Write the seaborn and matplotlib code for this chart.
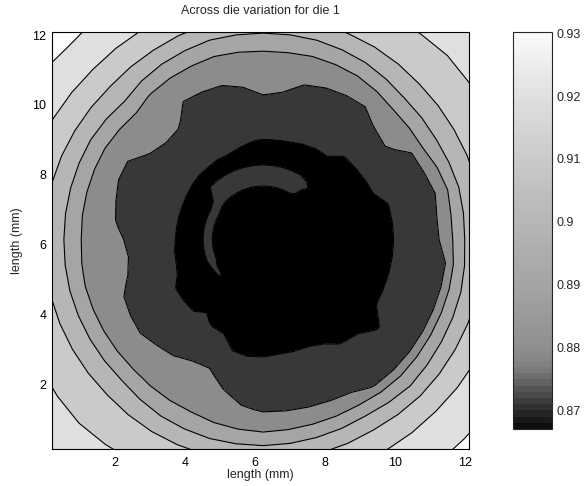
"""
Across-die variation map for die 1 (filled contour, grey levels)
Values sampled on a polar grid around the die centre
"""

import numpy as np
import matplotlib
matplotlib.use('Agg')
import matplotlib.pyplot as plt
import matplotlib.colors as mcolors
import matplotlib.cm as cm
import seaborn as sns

sns.set_theme(style="white")
plt.rcParams['font.family'] = ['Liberation Sans', 'DejaVu Sans']

# ============================================================================
# DATA
# ============================================================================
centre_mm = (6.23, 6.15)
radius_mm = [0, 0.7, 1.25, 1.6, 1.95, 2.45, 2.85, 3.3, 3.7, 4.15,
             4.55, 4.9, 5.25, 5.6, 5.95, 6.5, 7.15, 7.65, 8.3, 9.15]
angle_deg = [0, 7.5, 15, 22.5, 30, 37.5, 45, 52.5, 60, 67.5, 75, 82.5,
             90, 97.5, 105, 112.5, 120, 127.5, 135, 142.5, 150, 157.5, 165, 172.5,
             180, 187.5, 195, 202.5, 210, 217.5, 225, 232.5, 240, 247.5, 255, 262.5,
             270, 277.5, 285, 292.5, 300, 307.5, 315, 322.5, 330, 337.5, 345, 352.5]

# one row per angle, one value per radius
die_rows = [
    [0.8665, 0.8670, 0.8680, 0.8685, 0.8690, 0.8693, 0.8695, 0.8697, 0.8699, 0.8716, 0.8748, 0.8776, 0.8844, 0.8963, 0.9045, 0.9136, 0.9205, 0.9242, 0.9290, 0.9363],
    [0.8665, 0.8670, 0.8680, 0.8685, 0.8690, 0.8693, 0.8695, 0.8697, 0.8699, 0.8721, 0.8752, 0.8779, 0.8850, 0.8959, 0.9043, 0.9134, 0.9201, 0.9236, 0.9281, 0.9351],
    [0.8665, 0.8670, 0.8680, 0.8685, 0.8690, 0.8693, 0.8695, 0.8698, 0.8699, 0.8729, 0.8755, 0.8778, 0.8819, 0.8956, 0.9040, 0.9132, 0.9195, 0.9230, 0.9273, 0.9338],
    [0.8665, 0.8670, 0.8680, 0.8685, 0.8690, 0.8693, 0.8695, 0.8698, 0.8705, 0.8734, 0.8760, 0.8782, 0.8861, 0.8966, 0.9047, 0.9130, 0.9190, 0.9225, 0.9265, 0.9326],
    [0.8665, 0.8670, 0.8680, 0.8685, 0.8690, 0.8693, 0.8696, 0.8698, 0.8709, 0.8742, 0.8771, 0.8797, 0.8898, 0.8975, 0.9052, 0.9129, 0.9186, 0.9220, 0.9258, 0.9313],
    [0.8665, 0.8670, 0.8680, 0.8685, 0.8690, 0.8693, 0.8696, 0.8698, 0.8719, 0.8772, 0.8819, 0.8859, 0.8899, 0.8975, 0.9052, 0.9128, 0.9183, 0.9217, 0.9255, 0.9307],
    [0.8665, 0.8670, 0.8680, 0.8692, 0.8698, 0.8693, 0.8696, 0.8699, 0.8719, 0.8764, 0.8805, 0.8852, 0.8899, 0.8975, 0.9052, 0.9127, 0.9180, 0.9214, 0.9252, 0.9301],
    [0.8665, 0.8670, 0.8685, 0.8698, 0.8702, 0.8693, 0.8697, 0.8706, 0.8730, 0.8757, 0.8781, 0.8809, 0.8881, 0.8958, 0.9040, 0.9126, 0.9182, 0.9217, 0.9255, 0.9307],
    [0.8665, 0.8670, 0.8685, 0.8704, 0.8704, 0.8693, 0.8697, 0.8706, 0.8731, 0.8758, 0.8783, 0.8812, 0.8870, 0.8940, 0.9025, 0.9125, 0.9185, 0.9220, 0.9258, 0.9313],
    [0.8665, 0.8670, 0.8685, 0.8704, 0.8704, 0.8693, 0.8697, 0.8711, 0.8735, 0.8763, 0.8787, 0.8819, 0.8870, 0.8933, 0.9017, 0.9124, 0.9189, 0.9225, 0.9265, 0.9326],
    [0.8665, 0.8670, 0.8685, 0.8704, 0.8704, 0.8693, 0.8698, 0.8720, 0.8745, 0.8772, 0.8797, 0.8834, 0.8873, 0.8927, 0.9010, 0.9123, 0.9195, 0.9230, 0.9273, 0.9338],
    [0.8665, 0.8670, 0.8685, 0.8704, 0.8704, 0.8693, 0.8699, 0.8729, 0.8759, 0.8792, 0.8824, 0.8852, 0.8881, 0.8927, 0.9010, 0.9125, 0.9201, 0.9236, 0.9281, 0.9351],
    [0.8665, 0.8670, 0.8685, 0.8704, 0.8704, 0.8693, 0.8699, 0.8730, 0.8763, 0.8801, 0.8830, 0.8856, 0.8882, 0.8927, 0.9010, 0.9127, 0.9205, 0.9242, 0.9290, 0.9363],
    [0.8665, 0.8670, 0.8685, 0.8704, 0.8704, 0.8693, 0.8701, 0.8729, 0.8754, 0.8783, 0.8811, 0.8845, 0.8878, 0.8927, 0.9010, 0.9128, 0.9208, 0.9248, 0.9299, 0.9373],
    [0.8665, 0.8670, 0.8685, 0.8704, 0.8704, 0.8693, 0.8704, 0.8729, 0.8752, 0.8777, 0.8799, 0.8836, 0.8874, 0.8927, 0.9010, 0.9130, 0.9213, 0.9254, 0.9309, 0.9383],
    [0.8665, 0.8670, 0.8685, 0.8704, 0.8704, 0.8693, 0.8709, 0.8732, 0.8753, 0.8777, 0.8798, 0.8837, 0.8879, 0.8940, 0.9024, 0.9138, 0.9220, 0.9262, 0.9318, 0.9392],
    [0.8665, 0.8670, 0.8685, 0.8704, 0.8704, 0.8693, 0.8709, 0.8733, 0.8754, 0.8778, 0.8799, 0.8841, 0.8885, 0.8953, 0.9038, 0.9148, 0.9227, 0.9270, 0.9326, 0.9401],
    [0.8665, 0.8670, 0.8685, 0.8704, 0.8704, 0.8693, 0.8713, 0.8747, 0.8778, 0.8813, 0.8843, 0.8870, 0.8897, 0.8976, 0.9051, 0.9150, 0.9231, 0.9276, 0.9334, 0.9408],
    [0.8665, 0.8670, 0.8685, 0.8704, 0.8704, 0.8693, 0.8713, 0.8750, 0.8783, 0.8818, 0.8849, 0.8877, 0.8913, 0.9001, 0.9061, 0.9152, 0.9234, 0.9283, 0.9341, 0.9416],
    [0.8665, 0.8670, 0.8688, 0.8705, 0.8696, 0.8695, 0.8714, 0.8745, 0.8774, 0.8807, 0.8842, 0.8873, 0.8908, 0.8990, 0.9058, 0.9151, 0.9231, 0.9276, 0.9334, 0.9408],
    [0.8665, 0.8670, 0.8692, 0.8706, 0.8688, 0.8697, 0.8713, 0.8737, 0.8757, 0.8781, 0.8805, 0.8854, 0.8905, 0.8981, 0.9054, 0.9150, 0.9227, 0.9270, 0.9326, 0.9401],
    [0.8665, 0.8670, 0.8692, 0.8706, 0.8688, 0.8698, 0.8715, 0.8738, 0.8758, 0.8781, 0.8805, 0.8854, 0.8905, 0.8981, 0.9054, 0.9144, 0.9220, 0.9262, 0.9318, 0.9392],
    [0.8665, 0.8670, 0.8692, 0.8706, 0.8688, 0.8698, 0.8716, 0.8740, 0.8761, 0.8785, 0.8815, 0.8859, 0.8905, 0.8981, 0.9054, 0.9140, 0.9213, 0.9254, 0.9309, 0.9383],
    [0.8665, 0.8670, 0.8692, 0.8706, 0.8688, 0.8698, 0.8716, 0.8742, 0.8765, 0.8791, 0.8826, 0.8864, 0.8905, 0.8981, 0.9054, 0.9138, 0.9208, 0.9248, 0.9299, 0.9373],
    [0.8665, 0.8670, 0.8692, 0.8706, 0.8688, 0.8697, 0.8718, 0.8750, 0.8779, 0.8812, 0.8845, 0.8873, 0.8905, 0.8981, 0.9054, 0.9136, 0.9205, 0.9242, 0.9290, 0.9363],
    [0.8665, 0.8670, 0.8692, 0.8706, 0.8688, 0.8696, 0.8712, 0.8751, 0.8786, 0.8821, 0.8850, 0.8875, 0.8902, 0.8978, 0.9053, 0.9134, 0.9201, 0.9236, 0.9281, 0.9351],
    [0.8665, 0.8670, 0.8692, 0.8706, 0.8688, 0.8696, 0.8709, 0.8744, 0.8776, 0.8812, 0.8844, 0.8872, 0.8899, 0.8975, 0.9052, 0.9132, 0.9195, 0.9230, 0.9273, 0.9338],
    [0.8665, 0.8670, 0.8692, 0.8706, 0.8688, 0.8695, 0.8705, 0.8733, 0.8759, 0.8787, 0.8821, 0.8860, 0.8899, 0.8975, 0.9052, 0.9130, 0.9190, 0.9225, 0.9265, 0.9326],
    [0.8665, 0.8670, 0.8690, 0.8703, 0.8688, 0.8694, 0.8699, 0.8725, 0.8750, 0.8781, 0.8815, 0.8857, 0.8899, 0.8975, 0.9052, 0.9129, 0.9186, 0.9220, 0.9258, 0.9313],
    [0.8665, 0.8670, 0.8690, 0.8702, 0.8688, 0.8694, 0.8699, 0.8722, 0.8749, 0.8779, 0.8810, 0.8855, 0.8899, 0.8975, 0.9052, 0.9128, 0.9183, 0.9217, 0.9255, 0.9307],
    [0.8665, 0.8670, 0.8685, 0.8699, 0.8690, 0.8695, 0.8699, 0.8727, 0.8755, 0.8787, 0.8823, 0.8861, 0.8899, 0.8975, 0.9052, 0.9127, 0.9180, 0.9214, 0.9252, 0.9301],
    [0.8665, 0.8670, 0.8680, 0.8685, 0.8690, 0.8696, 0.8704, 0.8735, 0.8764, 0.8795, 0.8830, 0.8861, 0.8892, 0.8958, 0.9040, 0.9126, 0.9182, 0.9217, 0.9255, 0.9307],
    [0.8665, 0.8670, 0.8680, 0.8685, 0.8690, 0.8694, 0.8698, 0.8719, 0.8767, 0.8812, 0.8840, 0.8864, 0.8888, 0.8940, 0.9025, 0.9125, 0.9185, 0.9220, 0.9258, 0.9313],
    [0.8665, 0.8670, 0.8680, 0.8685, 0.8690, 0.8694, 0.8697, 0.8714, 0.8770, 0.8815, 0.8841, 0.8863, 0.8886, 0.8931, 0.9017, 0.9124, 0.9189, 0.9225, 0.9265, 0.9326],
    [0.8665, 0.8670, 0.8680, 0.8685, 0.8690, 0.8693, 0.8696, 0.8699, 0.8727, 0.8772, 0.8811, 0.8843, 0.8876, 0.8921, 0.9010, 0.9123, 0.9195, 0.9230, 0.9273, 0.9338],
    [0.8665, 0.8670, 0.8680, 0.8685, 0.8690, 0.8693, 0.8695, 0.8698, 0.8708, 0.8745, 0.8777, 0.8810, 0.8860, 0.8919, 0.9010, 0.9125, 0.9201, 0.9236, 0.9281, 0.9351],
    [0.8665, 0.8670, 0.8680, 0.8685, 0.8690, 0.8693, 0.8696, 0.8698, 0.8709, 0.8741, 0.8769, 0.8793, 0.8846, 0.8915, 0.9010, 0.9127, 0.9205, 0.9242, 0.9290, 0.9363],
    [0.8665, 0.8670, 0.8680, 0.8685, 0.8690, 0.8693, 0.8696, 0.8699, 0.8715, 0.8744, 0.8769, 0.8791, 0.8844, 0.8922, 0.9013, 0.9130, 0.9208, 0.9246, 0.9296, 0.9369],
    [0.8665, 0.8670, 0.8680, 0.8685, 0.8690, 0.8693, 0.8696, 0.8699, 0.8713, 0.8742, 0.8767, 0.8788, 0.8841, 0.8929, 0.9017, 0.9133, 0.9212, 0.9251, 0.9301, 0.9376],
    [0.8665, 0.8670, 0.8680, 0.8685, 0.8690, 0.8693, 0.8696, 0.8699, 0.8711, 0.8739, 0.8764, 0.8785, 0.8834, 0.8934, 0.9021, 0.9136, 0.9215, 0.9254, 0.9306, 0.9381],
    [0.8665, 0.8670, 0.8680, 0.8685, 0.8690, 0.8693, 0.8695, 0.8698, 0.8703, 0.8732, 0.8758, 0.8781, 0.8822, 0.8940, 0.9025, 0.9140, 0.9219, 0.9259, 0.9311, 0.9386],
    [0.8665, 0.8670, 0.8680, 0.8685, 0.8690, 0.8692, 0.8694, 0.8697, 0.8699, 0.8713, 0.8743, 0.8768, 0.8794, 0.8930, 0.9014, 0.9139, 0.9221, 0.9261, 0.9314, 0.9388],
    [0.8665, 0.8670, 0.8680, 0.8685, 0.8690, 0.8692, 0.8694, 0.8696, 0.8698, 0.8705, 0.8735, 0.8762, 0.8789, 0.8920, 0.9002, 0.9138, 0.9223, 0.9263, 0.9316, 0.9391],
    [0.8665, 0.8670, 0.8680, 0.8685, 0.8690, 0.8692, 0.8694, 0.8696, 0.8698, 0.8699, 0.8728, 0.8759, 0.8789, 0.8927, 0.9010, 0.9137, 0.9221, 0.9261, 0.9314, 0.9388],
    [0.8665, 0.8670, 0.8680, 0.8685, 0.8690, 0.8692, 0.8694, 0.8697, 0.8699, 0.8711, 0.8741, 0.8767, 0.8793, 0.8933, 0.9017, 0.9137, 0.9219, 0.9259, 0.9311, 0.9386],
    [0.8665, 0.8670, 0.8680, 0.8685, 0.8690, 0.8693, 0.8695, 0.8698, 0.8699, 0.8726, 0.8751, 0.8773, 0.8795, 0.8937, 0.9021, 0.9136, 0.9215, 0.9254, 0.9306, 0.9381],
    [0.8665, 0.8670, 0.8680, 0.8685, 0.8690, 0.8693, 0.8695, 0.8697, 0.8699, 0.8723, 0.8750, 0.8773, 0.8796, 0.8940, 0.9025, 0.9135, 0.9212, 0.9251, 0.9301, 0.9376],
    [0.8665, 0.8670, 0.8680, 0.8685, 0.8690, 0.8693, 0.8695, 0.8697, 0.8699, 0.8719, 0.8748, 0.8774, 0.8799, 0.8952, 0.9035, 0.9136, 0.9208, 0.9246, 0.9296, 0.9369],
]

# contour levels and the grey used to fill each band
fill_levels = [0.86, 0.87, 0.88, 0.89, 0.90, 0.91, 0.92, 0.93, 0.95]
line_levels = [0.87, 0.88, 0.89, 0.90, 0.91, 0.92, 0.93]
band_colors = ['#000000', '#383838', '#8c8c8c', '#a5a5a5', '#b6b6b6',
               '#cacaca', '#dfdfdf', '#fdfdfd']

# colorbar grey ramp
cbar_stops = [0.8670, 0.8765, 0.8800, 0.8900, 0.9000, 0.9100, 0.9200, 0.9302]
cbar_greys = [0.05, 0.50, 0.565, 0.645, 0.715, 0.79, 0.875, 0.975]
cbar_ticks = [0.87, 0.88, 0.89, 0.90, 0.91, 0.92, 0.93]
cbar_labels = ['0.87', '0.88', '0.89', '0.9', '0.91', '0.92', '0.93']

xticks = [2, 4, 6, 8, 10, 12]
yticks = [2, 4, 6, 8, 10, 12]

# ============================================================================
# GRID (close the circle by repeating the first angle)
# ============================================================================
angles = np.deg2rad(angle_deg + [360])
Z = np.array(die_rows + [die_rows[0]])
R, T = np.meshgrid(radius_mm, angles)
X = centre_mm[0] + R * np.cos(T)
Y = centre_mm[1] + R * np.sin(T)

# ============================================================================
# FIGURE
# ============================================================================
W, H = 587, 486
fig = plt.figure(figsize=(W / 100, H / 100), dpi=100)
ax = fig.add_axes([52 / W, 37 / H, 417 / W, 417 / H])

ax.contourf(X, Y, Z, levels=fill_levels, colors=band_colors)
ax.contour(X, Y, Z, levels=line_levels, colors='black', linewidths=0.8)

ax.set_xlim(0.2, 12.11)
ax.set_ylim(0.14, 12.09)
ax.set_xticks(xticks)
ax.set_yticks(yticks)
ax.set_xticklabels([str(t) for t in xticks])
ax.set_yticklabels([str(t) for t in yticks])
ax.tick_params(direction='in', length=4, width=0.6, top=True, right=True,
               bottom=True, left=True, labelsize=9, colors='black')
ax.tick_params(axis='x', pad=6)
ax.tick_params(axis='y', pad=4)
for s in ax.spines.values():
    s.set_color('black')
    s.set_linewidth(0.8)

ax.set_title('Across die variation for die 1', fontsize=9, pad=13)
ax.set_xlabel('length (mm)', fontsize=9, labelpad=0)
ax.set_ylabel('length (mm)', fontsize=9, labelpad=7)

# colorbar
cmin, cmax = cbar_stops[0], cbar_stops[-1]
pos = [(v - cmin) / (cmax - cmin) for v in cbar_stops]
cmap = mcolors.LinearSegmentedColormap.from_list(
    'mgrey', list(zip(pos, [(g, g, g) for g in cbar_greys])), N=64)
norm = mcolors.Normalize(vmin=cmin, vmax=cmax)
cax = fig.add_axes([513 / W, 57 / H, 39 / W, 397 / H])
cb = fig.colorbar(cm.ScalarMappable(norm=norm, cmap=cmap), cax=cax)
cb.set_ticks(cbar_ticks)
cb.set_ticklabels(cbar_labels)
cb.outline.set_linewidth(0.8)
cax.tick_params(direction='in', length=4, width=0.6, left=True, right=True,
                labelsize=9, pad=3)

fig.savefig('out.png', dpi=100)
